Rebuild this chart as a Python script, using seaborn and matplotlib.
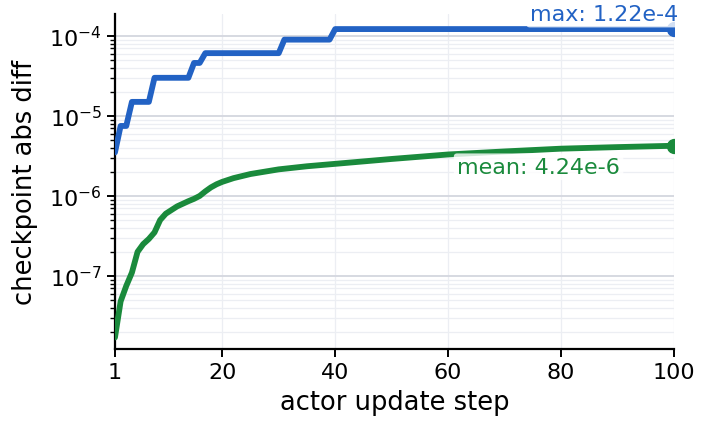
import numpy as np
import matplotlib
matplotlib.use("Agg")
import matplotlib.pyplot as plt
import matplotlib.ticker as mticker
import pandas as pd
import seaborn as sns

# max abs diff: running max, read at the steps where it changes
max_steps = [1, 2, 3, 4, 7, 8, 14, 15, 16, 17, 30, 31, 39, 40, 100]
max_vals = [3.5e-6, 7.5e-6, 7.5e-6, 1.5e-5, 1.5e-5, 3.0e-5, 3.0e-5, 4.6e-5,
            4.6e-5, 6.1e-5, 6.1e-5, 9.0e-5, 9.0e-5, 1.22e-4, 1.22e-4]

# mean abs diff
mean_steps = [1, 2, 3, 4, 5, 6, 7, 8, 9, 10, 12, 14, 15, 16, 17, 18, 19, 20,
              22, 25, 30, 35, 40, 50, 60, 70, 80, 90, 100]
mean_vals = [1.7e-8, 4.8e-8, 7.5e-8, 1.1e-7, 2.0e-7, 2.5e-7, 2.9e-7, 3.5e-7,
             5.0e-7, 6.0e-7, 7.4e-7, 8.6e-7, 9.2e-7, 1.0e-6, 1.14e-6, 1.28e-6,
             1.4e-6, 1.5e-6, 1.67e-6, 1.88e-6, 2.15e-6, 2.35e-6, 2.52e-6,
             2.9e-6, 3.3e-6, 3.6e-6, 3.9e-6, 4.08e-6, 4.24e-6]

labels = ["max", "mean"]
colors = {"max": "#2262c4", "mean": "#1a8a3c"}

df = pd.concat([
    pd.DataFrame({"step": max_steps, "diff": max_vals, "stat": "max"}),
    pd.DataFrame({"step": mean_steps, "diff": mean_vals, "stat": "mean"}),
])

sns.set_style("white")
plt.rcParams["font.family"] = ["DejaVu Sans"]
plt.rcParams["text.color"] = "black"
plt.rcParams["axes.labelcolor"] = "black"
plt.rcParams["xtick.color"] = "black"
plt.rcParams["ytick.color"] = "black"

fig = plt.figure(figsize=(7.01, 4.35), dpi=100)
ax = fig.add_axes([0.164, 0.1954, 0.7975, 0.77])

sns.lineplot(data=df, x="step", y="diff", hue="stat", palette=colors,
             linewidth=4.2, legend=False, ax=ax, zorder=3)

ax.set_yscale("log")
ax.set_xlim(1, 100)
ax.set_ylim(1.22e-8, 1.88e-4)

ax.set_xticks([1, 20, 40, 60, 80, 100])
ax.yaxis.set_major_locator(mticker.LogLocator(base=10, numticks=10))
ax.yaxis.set_minor_locator(mticker.LogLocator(base=10, subs=np.arange(2, 10), numticks=20))
ax.yaxis.set_minor_formatter(mticker.NullFormatter())

ax.grid(True, which="major", axis="y", color="#d6d9e1", linewidth=1.4, zorder=0)
ax.grid(True, which="minor", axis="y", color="#eceef3", linewidth=0.9, zorder=0)
ax.grid(True, which="major", axis="x", color="#eceef3", linewidth=0.9, zorder=0)

sns.despine(ax=ax)
for s in ["left", "bottom"]:
    ax.spines[s].set_linewidth(1.6)
    ax.spines[s].set_color("black")

ax.tick_params(axis="both", which="major", labelsize=16, length=6, width=1.4,
               direction="out", color="black", left=True, bottom=True)
ax.tick_params(axis="y", which="minor", length=3.5, width=1.0, direction="out",
               color="black", left=True)

ax.set_xlabel("actor update step", fontsize=18.5, labelpad=5)
ax.set_ylabel("checkpoint abs diff", fontsize=18.5, labelpad=8)

# end markers and labels
for lab in labels:
    sub = df[df["stat"] == lab]
    xe, ye = sub["step"].iloc[-1], sub["diff"].iloc[-1]
    ax.plot([xe], [ye], "o", color=colors[lab], markersize=10, zorder=4)
    if lab == "max":
        ax.annotate(f"max: {ye:.2e}".replace("e-0", "e-"), (xe, ye),
                    xytext=(4, 15), textcoords="offset pixels",
                    ha="right", va="center", fontsize=16, color=colors[lab],
                    annotation_clip=False, zorder=5,
                    bbox=dict(boxstyle="round,pad=0.15", fc="white",
                              ec="none", alpha=0.8))
    else:
        ax.annotate(f"mean: {ye:.2e}".replace("e-0", "e-"), (xe, ye),
                    xytext=(-54, -21), textcoords="offset pixels",
                    ha="right", va="center", fontsize=16, color=colors[lab],
                    zorder=5,
                    bbox=dict(boxstyle="round,pad=0.15", fc="white",
                              ec="none", alpha=0.8))

fig.savefig("out.png", dpi=100)
